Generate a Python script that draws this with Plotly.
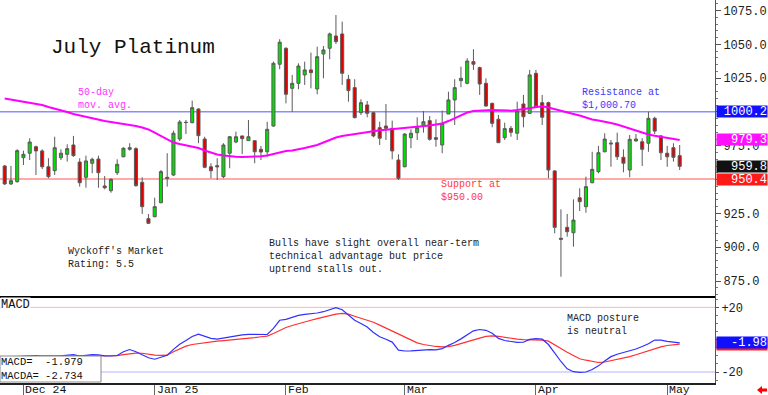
import pandas as pd
import plotly.graph_objects as go

# ---------------- data ----------------
HOLIDAYS = ["2024-11-28", "2024-12-25", "2025-01-01", "2025-01-20", "2025-02-17", "2025-04-18"]
dates = [d.strftime("%Y-%m-%d") for d in pd.bdate_range("2024-11-26", "2025-05-05")
         if d.strftime("%Y-%m-%d") not in HOLIDAYS]

open_ = [960.1, 946.8, 948.5, 966.2, 969.5, 974.3, 971.2, 959.5, 956.6, 966.2,
         968.7, 975.6, 963.0, 951.7, 962.1, 965.2, 945.3, 941.8, 955.1, 966.9,
         972.4, 972.9, 948.0, 921.1, 922.6, 932.9, 951.7, 953.4, 980.0, 992.4,
         992.1, 1002.2, 980.0, 959.5, 960.3, 952.2, 969.5, 977.8, 982.3, 978.8,
         978.8, 972.4, 970.6, 989.6, 1035.3, 1047.1, 1017.5, 1021.2, 1027.4, 1031.1,
         1017.0, 1042.9, 1047.1, 1056.2, 1057.7, 1024.2, 1018.0, 999.5, 1005.2, 999.5,
         988.4, 989.6, 987.9, 964.5, 959.5, 981.0, 984.7, 990.2, 993.6, 981.0,
         975.6, 998.5, 1008.9, 1023.2, 1021.2, 1037.2, 1032.8, 1021.2, 1006.4, 994.6,
         981.0, 987.9, 984.3, 1005.9, 999.0, 1028.6, 1006.9, 1006.9, 956.4, 906.6,
         914.7, 910.7, 936.6, 930.0, 947.7, 955.9, 970.6, 976.3, 977.3, 966.5,
         957.1, 978.6, 978.0, 976.9, 995.3, 982.3, 969.5, 973.6, 967.7]
high = [960.8, 960.1, 972.4, 971.4, 980.6, 975.1, 972.4, 965.8, 981.7, 972.4,
        976.1, 982.3, 965.8, 967.7, 966.2, 967.7, 952.7, 951.0, 965.0, 973.9,
        976.9, 973.9, 951.7, 924.6, 936.6, 957.1, 969.5, 986.2, 994.1, 994.1,
        1008.4, 1002.7, 981.7, 962.1, 965.8, 976.9, 982.3, 985.4, 982.3, 994.1,
        978.8, 974.9, 992.8, 1037.2, 1053.8, 1047.8, 1027.4, 1036.0, 1037.2, 1043.9,
        1048.3, 1048.8, 1058.7, 1071.7, 1066.8, 1027.4, 1024.2, 1009.4, 1008.1, 1000.2,
        992.8, 1005.9, 993.6, 968.7, 984.3, 987.2, 996.1, 1000.7, 997.0, 994.6,
        1001.0, 1015.0, 1024.2, 1033.5, 1039.7, 1046.4, 1033.5, 1024.9, 1006.9, 997.8,
        992.1, 989.6, 1007.6, 1012.6, 1031.1, 1031.1, 1012.6, 1007.6, 957.1, 928.0,
        924.6, 935.4, 943.6, 952.2, 970.6, 974.9, 984.3, 979.3, 984.7, 972.4,
        983.0, 983.7, 980.6, 1000.2, 996.5, 983.0, 974.9, 976.9, 975.6]
low = [946.0, 946.0, 947.7, 960.8, 964.5, 953.4, 957.8, 951.0, 953.4, 964.5,
       963.3, 966.9, 944.8, 944.0, 954.7, 944.0, 942.8, 940.3, 953.4, 966.5,
       971.4, 944.8, 924.6, 917.2, 922.1, 932.5, 944.8, 952.7, 978.6, 983.7,
       991.6, 976.9, 958.4, 951.0, 949.7, 951.0, 958.4, 976.9, 968.9, 978.8,
       962.1, 964.5, 966.9, 989.1, 1031.6, 1006.4, 1000.2, 1016.8, 1020.0, 1017.5,
       1013.1, 1024.9, 1039.0, 1050.3, 1020.0, 1007.6, 995.3, 997.8, 996.1, 981.3,
       975.6, 979.3, 965.0, 949.7, 959.1, 973.2, 979.3, 984.7, 978.8, 974.3,
       969.5, 998.5, 990.4, 1018.3, 1020.5, 1031.1, 1012.6, 1003.9, 988.7, 977.3,
       979.3, 981.7, 979.3, 988.7, 998.5, 1003.4, 990.4, 951.0, 910.3, 878.2,
       907.8, 900.4, 926.8, 925.5, 947.3, 954.7, 970.2, 959.5, 964.5, 955.4,
       951.7, 978.0, 960.1, 970.6, 983.7, 964.5, 959.5, 963.3, 957.1]
close = [946.8, 949.2, 971.4, 968.7, 977.8, 971.2, 959.5, 952.2, 973.6, 969.5,
         972.9, 967.7, 947.7, 963.8, 965.0, 955.1, 944.0, 950.2, 961.3, 973.2,
         973.6, 945.5, 930.0, 917.7, 930.0, 955.9, 951.0, 984.3, 992.6, 992.2,
         1003.2, 982.5, 959.1, 956.6, 959.5, 975.6, 981.7, 981.7, 980.3, 981.7,
         970.6, 970.4, 987.2, 1036.0, 1051.6, 1013.1, 1021.2, 1034.0, 1031.1, 1029.1,
         1040.9, 1045.9, 1057.7, 1052.0, 1028.6, 1015.8, 995.8, 1006.9, 999.0, 982.3,
         980.6, 987.9, 971.2, 951.0, 983.7, 984.3, 988.4, 992.8, 979.8, 979.8,
         991.6, 1008.9, 1018.0, 1024.9, 1037.7, 1035.3, 1020.7, 1004.4, 991.6, 977.3,
         987.7, 985.0, 1000.7, 996.5, 1027.4, 1003.9, 996.1, 957.1, 914.7, 905.9,
         911.5, 920.1, 933.7, 944.8, 957.6, 969.9, 980.0, 976.9, 966.9, 962.1,
         979.8, 980.0, 972.4, 995.3, 985.9, 969.9, 966.9, 966.5, 959.8]
ma50 = [1010.0, 1009.2, 1008.5, 1007.8, 1007.2, 1006.3, 1005.2, 1003.7, 1002.6, 1001.5,
        1000.0, 998.5, 997.4, 996.3, 995.2, 994.3, 993.3, 992.6, 991.9, 991.1,
        990.4, 989.6, 988.5, 987.1, 984.8, 982.2, 979.7, 977.4, 976.3, 975.2,
        974.5, 973.4, 971.5, 970.0, 968.6, 967.8, 967.2, 966.9, 966.7, 966.7,
        966.9, 967.2, 967.8, 968.9, 970.0, 971.2, 971.5, 972.3, 973.4, 974.5,
        975.6, 977.4, 979.3, 981.1, 982.2, 983.0, 983.5, 984.5, 985.2, 985.9,
        986.5, 986.8, 987.2, 987.6, 988.0, 988.4, 988.7, 989.3, 990.0, 990.8,
        991.5, 993.3, 995.6, 997.8, 999.6, 1000.7, 1001.1, 1001.3, 1001.5, 1001.3,
        1001.0, 1001.0, 1001.5, 1002.2, 1002.7, 1003.7, 1004.3, 1003.3, 1002.0, 1000.7,
        999.6, 998.5, 997.4, 995.9, 994.5, 993.7, 993.0, 991.9, 990.8, 989.3,
        987.8, 986.3, 984.8, 983.4, 982.4, 981.7, 981.1, 980.4, 979.3]
macd = [-11.0, -10.8, -10.3, -10.0, -9.8, -9.9, -10.1, -10.3, -10.1, -10.0,
        -9.4, -9.2, -10.2, -9.8, -9.3, -9.4, -10.0, -10.1, -9.8, -7.5,
        -6.1, -7.5, -9.5, -11.2, -12.1, -11.0, -9.6, -6.0, -2.8, -0.5,
        2.0, 3.4, 2.0, 0.8, 0.3, 1.0, 1.8, 2.4, 3.0, 3.3,
        3.2, 2.9, 3.2, 7.0, 12.0, 12.6, 13.8, 15.0, 15.6, 16.0,
        16.5, 17.3, 18.8, 19.8, 18.5, 15.0, 12.0, 10.0, 7.8, 4.5,
        1.8, 0.3, -1.5, -6.5, -7.0, -6.9, -6.7, -6.2, -6.1, -6.3,
        -5.5, -3.5, -1.8, 0.5, 3.0, 5.5, 6.3, 5.8, 4.0, 0.8,
        -0.5, -1.3, -1.7, -1.6, 0.2, 0.7, 0.3, -3.0, -8.5, -13.5,
        -18.0, -19.8, -20.2, -20.0, -18.5, -16.2, -13.2, -10.5, -9.0, -8.0,
        -7.0, -5.8, -4.2, -2.5, -0.2, -0.3, -1.0, -1.5, -1.979]
macda = [-10.5, -10.4, -10.3, -10.3, -10.2, -10.2, -10.2, -10.2, -10.2, -10.2,
         -10.1, -10.1, -10.1, -10.0, -10.0, -10.0, -10.1, -10.1, -9.9, -9.2,
         -8.7, -8.3, -8.4, -9.0, -9.5, -9.7, -9.6, -7.5, -5.5, -4.0,
         -3.0, -2.4, -1.8, -1.2, -0.9, -0.6, -0.3, 0.1, 0.5, 0.9,
         1.3, 1.8, 2.2, 3.8, 5.8, 7.5, 8.8, 10.0, 11.0, 12.0,
         13.0, 14.0, 15.0, 15.8, 16.3, 15.8, 14.5, 13.3, 12.3, 10.8,
         9.0, 7.2, 5.2, 3.5, 1.5, -0.5, -2.0, -3.0, -3.7, -4.2,
         -4.5, -4.3, -3.5, -2.3, -1.4, -0.3, 1.0, 2.0, 2.4, 2.1,
         1.4, 0.8, 0.3, 0.0, 0.0, -0.1, -0.3, -0.9, -3.0, -5.5,
         -7.8, -10.0, -11.8, -12.7, -13.6, -14.1, -13.8, -13.0, -12.2, -11.5,
         -10.5, -9.3, -8.0, -6.8, -5.6, -4.5, -3.6, -3.2, -2.734]

month_ticks = ["2024-12-02", "2025-01-02", "2025-02-03", "2025-03-03", "2025-04-01", "2025-05-01"]
month_labels = ["Dec 24", "Jan 25", "Feb", "Mar", "Apr", "May"]
price_ticks = [875, 900, 925, 950, 975, 1000, 1025, 1050, 1075]
price_tick_labels = ["875.0", "900.0", "925.0", "", "975.0", "", "1025.0", "1050.0", "1075.0"]
macd_ticks = [-20, 0, 20]
macd_tick_labels = ["-20", "", "+20"]

resistance_level = 1000.2
support_level = 950.4
ma_last = 979.3
last_close = 959.8
macd_last = -1.979
macda_last = -2.734
macd_upper, macd_lower = 20, -20

# ---------------- layout helpers ----------------
W, H = 768, 395
PW, PH = 715, 383          # plot area (margins: left 0, top 0, right 53, bottom 12)
SPLIT = 297                # pixel row of the panel separator
MONO = "Liberation Mono"


def px(x, y):
    return x / PW, 1 - y / PH


annotations = []


def note(text, x, y, color="#111", size=10.5, **kw):
    """Left-anchored text whose block centre sits at pixel (x, y)."""
    xp, yp = px(x, y)
    annotations.append(dict(text=text, x=xp, y=yp, xref="paper", yref="paper",
                            xanchor="left", yanchor="middle", align="left", showarrow=False,
                            borderpad=0, font=dict(family=MONO, size=size, color=color), **kw))


fig = go.Figure()

fig.add_trace(go.Candlestick(
    x=dates, open=open_, high=high, low=low, close=close,
    increasing=dict(fillcolor="#00e000", line=dict(color="#5a5a5a", width=1)),
    decreasing=dict(fillcolor="#e00000", line=dict(color="#5a5a5a", width=1)),
    whiskerwidth=0, xaxis="x", yaxis="y", hoverinfo="skip"))

fig.add_trace(go.Scatter(x=dates, y=ma50, mode="lines",
                         line=dict(color="#ff00ff", width=2), xaxis="x", yaxis="y"))

fig.add_trace(go.Scatter(x=dates, y=macda, mode="lines",
                         line=dict(color="#ff3030", width=1.2), xaxis="x", yaxis="y2"))
fig.add_trace(go.Scatter(x=dates, y=macd, mode="lines",
                         line=dict(color="#3030ff", width=1.2), xaxis="x", yaxis="y2"))

split_p = 1 - SPLIT / PH
shapes = [
    dict(type="line", xref="paper", x0=0, x1=1, yref="y", y0=resistance_level, y1=resistance_level,
         line=dict(color="#8c8cff", width=1.5), layer="below"),
    dict(type="line", xref="paper", x0=0, x1=1, yref="y", y0=support_level, y1=support_level,
         line=dict(color="#ff8c8c", width=1.5), layer="below"),
    dict(type="line", xref="paper", x0=0, x1=1, yref="y2", y0=macd_upper, y1=macd_upper,
         line=dict(color="#ffb4b4", width=1), layer="below"),
    dict(type="line", xref="paper", x0=0, x1=1, yref="y2", y0=macd_lower, y1=macd_lower,
         line=dict(color="#b4b4ff", width=1), layer="below"),
    dict(type="line", xref="paper", x0=0, x1=1, yref="paper", y0=split_p, y1=split_p,
         line=dict(color="#000", width=2)),
]
# MACD value box (bottom-left)
bx0, by0 = px(0, 356)
bx1, by1 = px(101, 382)
shapes.append(dict(type="rect", xref="paper", yref="paper", x0=bx0, x1=bx1, y0=by1, y1=by0,
                   fillcolor="white", line=dict(color="#8a8a8a", width=1)))
# red arrow bottom-right
ax, ay = 757, 390
pts = [(ax, ay), (ax + 5, ay - 4), (ax + 5, ay - 1.5), (ax + 10, ay - 1.5),
       (ax + 10, ay + 1.5), (ax + 5, ay + 1.5), (ax + 5, ay + 4)]
path = "M " + " L ".join(f"{px(a, b)[0]:.5f},{px(a, b)[1]:.5f}" for a, b in pts) + " Z"
shapes.append(dict(type="path", xref="paper", yref="paper", path=path,
                   fillcolor="#ff0000", line=dict(color="#ff0000", width=0)))

# ---------------- texts ----------------
note("July Platinum", 50, 47.5, size=21, color="#111")
note("50-day<br>mov. avg.", 77, 98.5, color="#ff33ff", size=10)
note("Resistance at<br>$1,000.70", 581, 98.7, color="#3a3aff", size=10)
note("Support at<br>$950.00", 440, 190.9, color="#ff3a3a", size=10)
note("Wyckoff's Market<br>Rating: 5.5", 67, 258, color="#222", size=10)
note("Bulls have slight overall near-term<br>technical advantage but price<br>uptrend stalls out.",
     268, 256.7, color="#222", size=10)
note("MACD posture<br>is neutral", 566, 324.7, color="#222", size=10)
note("MACD", 0, 305, size=12, color="#111", bgcolor="white")
note(f"MACD=  {macd_last:.3f}<br>MACDA= {macda_last:.3f}", 0, 369, size=10.5, color="#111")

for t, lab in zip(month_ticks, month_labels):
    annotations.append(dict(text=lab, x=t, xref="x", y=1 - 389.5 / PH, yref="paper",
                            xanchor="left", yanchor="middle", xshift=1, showarrow=False,
                            borderpad=0, font=dict(family=MONO, size=11.5, color="#111")))


def value_box(val, yref, color, txt, text_color="white"):
    annotations.append(dict(text=txt, x=1, xref="paper", y=val, yref=yref,
                            xanchor="left", yanchor="middle", xshift=1, showarrow=False,
                            width=50, height=11, align="right", borderpad=0, bgcolor=color,
                            font=dict(family=MONO, size=12, color=text_color)))


value_box(resistance_level, "y", "#1010ff", f"{resistance_level:.1f}")
value_box(ma_last, "y", "#ff10ff", f"{ma_last:.1f}")
value_box(last_close, "y", "#111111", f"{last_close:.1f}")
value_box(support_level, "y", "#ff1a1a", f"{support_level:.1f}")
value_box(macda_last, "y2", "#ff1a1a", " ")
value_box(macd_last, "y2", "#1010ff", f"{macd_last:.2f}")

fig.update_layout(
    width=W, height=H, margin=dict(l=0, r=W - PW, t=0, b=H - PH),
    paper_bgcolor="white", plot_bgcolor="white", showlegend=False,
    xaxis=dict(type="category", anchor="y2", domain=[0, 1], range=[-0.75, 113.65],
               rangeslider=dict(visible=False), showgrid=False, zeroline=False,
               tickmode="array", tickvals=month_ticks, ticktext=[""] * len(month_ticks),
               ticks="outside", ticklen=12, tickcolor="#666", tickwidth=1,
               showline=True, linecolor="#222", linewidth=1.5),
    yaxis=dict(domain=[split_p, 1], range=[863.2, 1082.8], side="right",
               tickmode="array", tickvals=price_ticks, ticktext=price_tick_labels,
               ticks="outside", ticklen=5, tickcolor="#555", showline=True, linecolor="#555",
               showgrid=False, zeroline=False,
               minor=dict(dtick=5, ticks="outside", ticklen=2, tickcolor="#777"),
               tickfont=dict(family=MONO, size=12, color="#222")),
    yaxis2=dict(domain=[0, split_p], range=[-26.8, 26.4], side="right",
                tickmode="array", tickvals=macd_ticks, ticktext=macd_tick_labels,
                ticks="outside", ticklen=3, tickcolor="#555", showline=True, linecolor="#555",
                showgrid=False, zeroline=False,
                minor=dict(dtick=5, ticks="outside", ticklen=2, tickcolor="#777"),
                tickfont=dict(family=MONO, size=12, color="#222")),
    annotations=annotations, shapes=shapes,
)

fig.write_html("out.html", config={"displayModeBar": False},
               post_script="document.body.style.margin='0px';")
